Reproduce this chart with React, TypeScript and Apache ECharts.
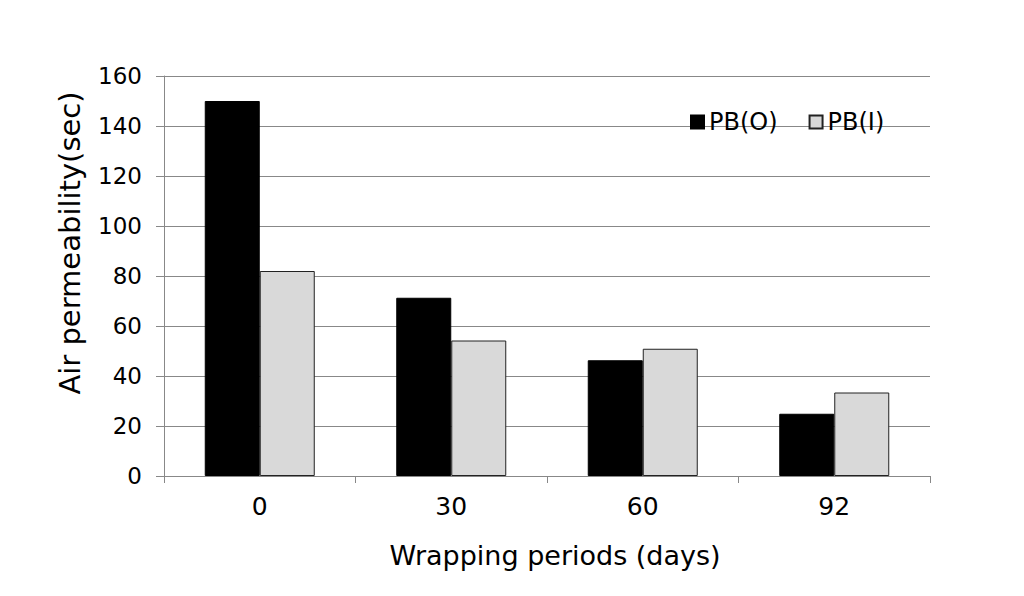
import React, { useEffect, useRef } from "react";
import * as echarts from "echarts";

const categories = ["0", "30", "60", "92"];
const pbO = [150, 71.3, 46.3, 24.9];
const pbI = [82, 54.2, 50.9, 33.4];
const yTicks = { min: 0, max: 160, interval: 20 };
const xTitle = "Wrapping periods (days)";
const yTitle = "Air permeability(sec)";

export default function App() {
  const ref = useRef<HTMLDivElement>(null);
  useEffect(() => {
    if (!ref.current) return;
    const chart = echarts.init(ref.current, undefined, { renderer: "svg" });
    const font = "'DejaVu Sans', 'Liberation Sans', sans-serif";
    chart.setOption({
      animation: false,
      backgroundColor: "#ffffff",
      textStyle: { fontFamily: font, color: "#000" },
      grid: { left: 164, right: 94, top: 76, bottom: 120, containLabel: false },
      legend: {
        left: 685,
        top: 105,
        itemWidth: 13,
        itemHeight: 13,
        itemGap: 31,
        icon: "rect",
        textStyle: { fontSize: 24, color: "#000", fontFamily: font },
        data: ["PB(O)", "PB(I)"],
      },
      graphic: [
        {
          type: "text",
          x: 555,
          y: 555,
          style: {
            text: xTitle,
            fontSize: 27,
            fontFamily: font,
            fill: "#000",
            align: "center",
            verticalAlign: "middle",
          },
        },
        {
          type: "text",
          x: 70,
          y: 243,
          rotation: Math.PI / 2,
          style: {
            text: yTitle,
            fontSize: 29,
            fontFamily: font,
            fill: "#000",
            align: "center",
            verticalAlign: "middle",
          },
        },
      ],
      xAxis: {
        type: "category",
        data: categories,
        axisLine: { lineStyle: { color: "#888", width: 1 } },
        axisTick: { show: true, length: 7, lineStyle: { color: "#888" } },
        axisLabel: { fontSize: 25, color: "#000", margin: 18, fontFamily: font },
      },
      yAxis: {
        type: "value",
        min: yTicks.min,
        max: yTicks.max,
        interval: yTicks.interval,
        axisLine: { show: true, lineStyle: { color: "#888", width: 1 } },
        axisTick: { show: true, length: 8, inside: false, lineStyle: { color: "#888" } },
        axisLabel: { fontSize: 23, color: "#000", margin: 22, fontFamily: font },
        splitLine: { show: true, lineStyle: { color: "#888", width: 1 } },
      },
      series: [
        {
          name: "PB(O)",
          type: "bar",
          data: pbO,
          barWidth: 55,
          barGap: "0%",
          itemStyle: { color: "#000000", borderColor: "#000000", borderWidth: 1 },
        },
        {
          name: "PB(I)",
          type: "bar",
          data: pbI,
          barWidth: 55,
          barGap: "0%",
          itemStyle: { color: "#d9d9d9", borderColor: "#222", borderWidth: 1 },
        },
      ],
    });
    return () => chart.dispose();
  }, []);
  return (
    <div
      ref={ref}
      style={{ position: "absolute", left: 0, top: 0, width: 1024, height: 596, background: "#fff" }}
    />
  );
}
